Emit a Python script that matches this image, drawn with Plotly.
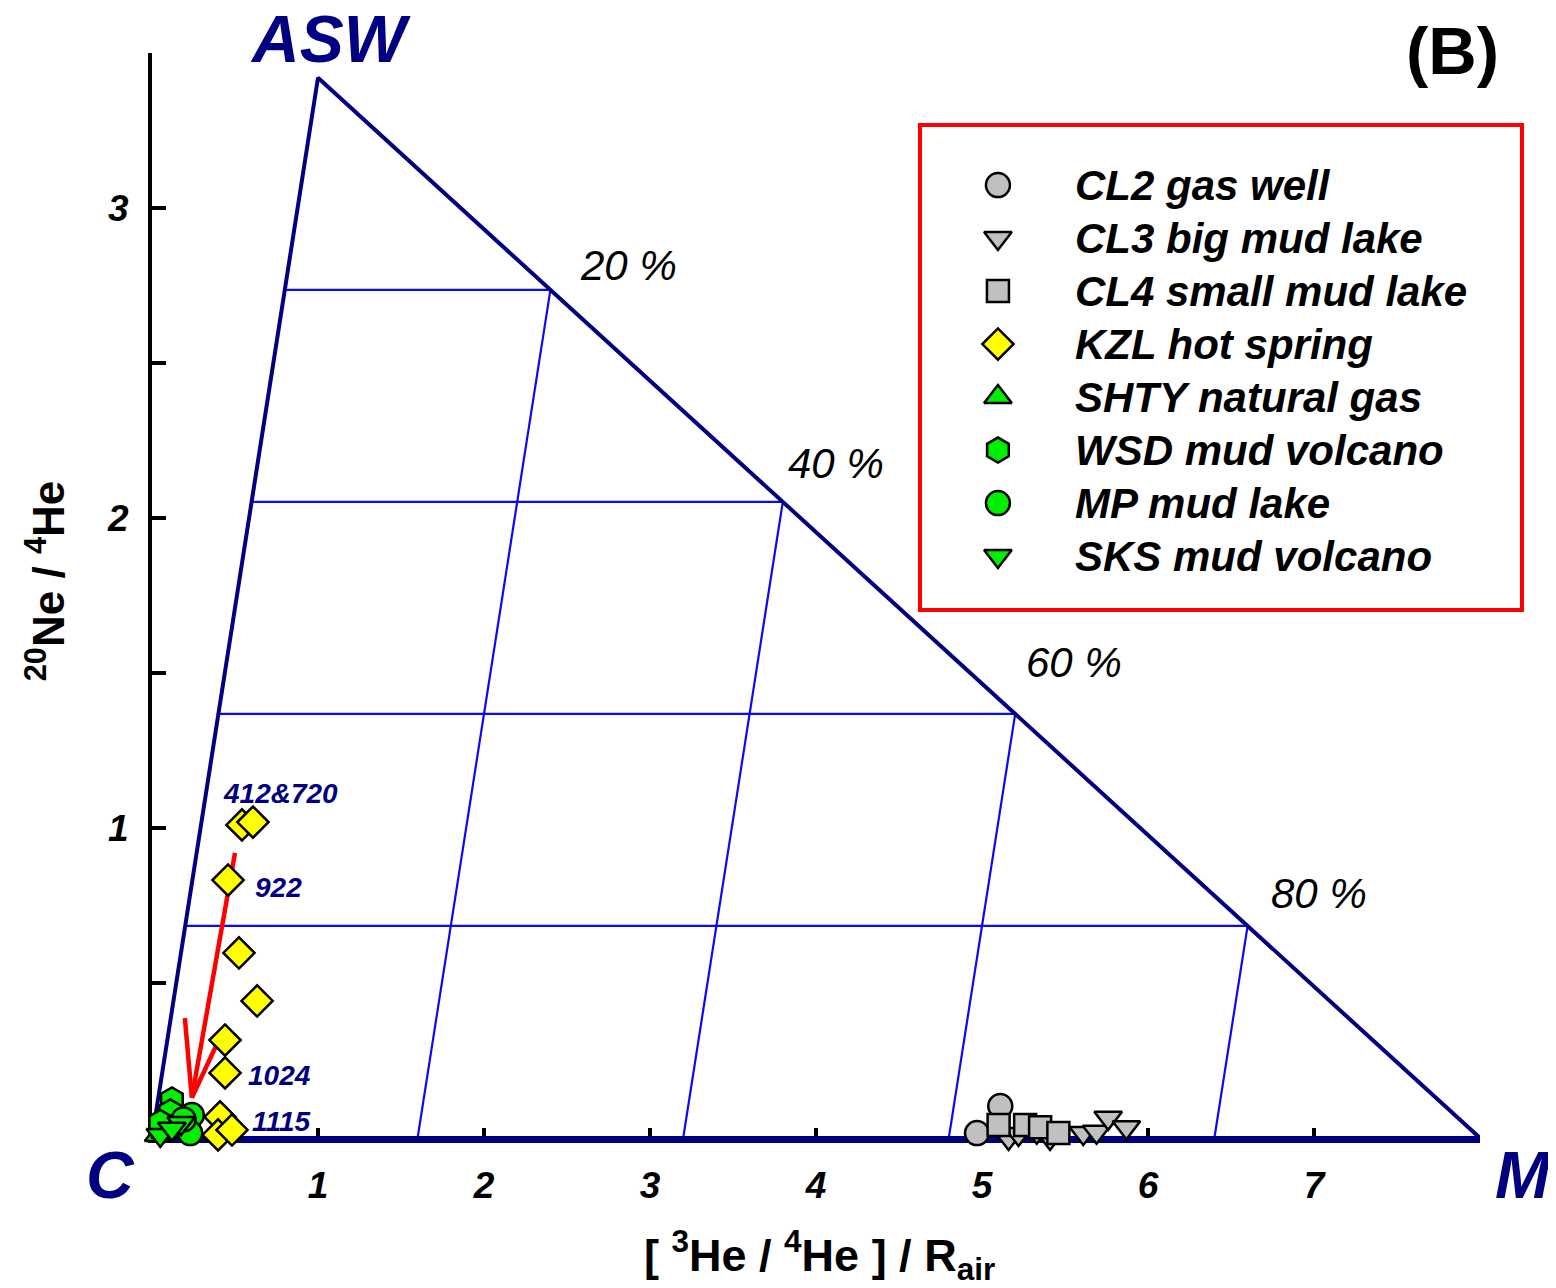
import math
import plotly.graph_objects as go

# ---------------- data ----------------
END_NAMES = ["C", "ASW", "M"]
END_X = [0.0, 1.0, 8.0]
END_Y = [0.0, 3.42, 0.0]
GRID_FRACS = [0.2, 0.4, 0.6, 0.8]
PCT_LABELS = ["20 %", "40 %", "60 %", "80 %"]

SERIES_NAMES = ["CL2 gas well", "CL3 big mud lake", "CL4 small mud lake", "KZL hot spring",
                "SHTY natural gas", "WSD mud volcano", "MP mud lake", "SKS mud volcano"]

CL2_X = [5.11, 4.97]
CL2_Y = [0.103, 0.016]
CL3_X = [5.16, 5.22, 5.33, 5.41, 5.61, 5.69, 5.76, 5.87]
CL3_Y = [0.0, 0.013, 0.02, 0.0, 0.016, 0.02, 0.065, 0.035]
CL4_X = [5.10, 5.26, 5.35, 5.46]
CL4_Y = [0.042, 0.042, 0.035, 0.016]
KZL_X = [0.542, 0.608, 0.458, 0.524, 0.633, 0.440, 0.440, 0.410, 0.398, 0.482]
KZL_Y = [1.010, 1.019, 0.832, 0.597, 0.442, 0.316, 0.210, 0.068, 0.010, 0.026]
SHTY_X = [0.04, 0.08]
SHTY_Y = [0.01, 0.02]
WSD_X = [0.12, 0.11, 0.07, 0.05]
WSD_Y = [0.123, 0.084, 0.026, 0.05]
MP_X = [0.24, 0.23, 0.19]
MP_Y = [0.074, 0.016, 0.06]
SKS_X = [0.175, 0.05, 0.12]
SKS_Y = [0.048, 0.01, 0.03]

KZL_LABEL_IDX = [1, 2, 6, 9]
KZL_LABELS = ["412&720", "922", "1024", "1115"]

ARROW_FROM = (0.50, 0.92)
ARROW_TO = (0.24, 0.13)

X_TICKS = [1, 2, 3, 4, 5, 6, 7]
Y_TICKS = [0.5, 1, 1.5, 2, 2.5, 3, 3.5]
Y_TICKTEXT = ["", "1", "", "2", "", "3", ""]

# ---------------- style / layout ----------------
W, H = 1548, 1280
ML, MR, MT, MB = 144, 76, 45, 150
XR = [0, 8]
YR = [0, 3.5]
PXX = (W - ML - MR) / (XR[1] - XR[0])
PXY = (H - MT - MB) / (YR[1] - YR[0])

FONT = "Arial, Liberation Sans, sans-serif"
NAVY = "#000080"
GRID = "#0A0AF0"
GRAY = "#C0C0C0"
YEL = "#FFFF00"
GRN = "#00EE00"

STYLES = [
    dict(symbol="circle", color=GRAY, size=24),
    dict(symbol="triangle-down", color=GRAY, size=24),
    dict(symbol="square", color=GRAY, size=22),
    dict(symbol="diamond", color=YEL, size=24),
    dict(symbol="triangle-up", color=GRN, size=24),
    dict(symbol="hexagon", color=GRN, size=25),
    dict(symbol="circle", color=GRN, size=24),
    dict(symbol="triangle-down", color=GRN, size=24),
]
SERIES_XY = [(CL2_X, CL2_Y), (CL3_X, CL3_Y), (CL4_X, CL4_Y), (KZL_X, KZL_Y),
             (SHTY_X, SHTY_Y), (WSD_X, WSD_Y), (MP_X, MP_Y), (SKS_X, SKS_Y)]

fig = go.Figure()

C = (END_X[0], END_Y[0])
A = (END_X[1], END_Y[1])
M = (END_X[2], END_Y[2])

def mix(p, q, f):
    return (p[0] * f + q[0] * (1 - f), p[1] * f + q[1] * (1 - f))

# grid lines
gx, gy = [], []
for f in GRID_FRACS:
    p1 = mix(A, C, f); p2 = mix(A, M, f)
    gx += [p1[0], p2[0], None]; gy += [p1[1], p2[1], None]
    q1 = mix(M, C, f); q2 = mix(M, A, f)
    gx += [q1[0], q2[0], None]; gy += [q1[1], q2[1], None]
fig.add_trace(go.Scatter(x=gx, y=gy, mode="lines", line=dict(color=GRID, width=2.2),
                         hoverinfo="skip", showlegend=False))

# triangle outline
fig.add_trace(go.Scatter(x=[C[0], A[0], M[0], C[0]], y=[C[1], A[1], M[1], C[1]],
                         mode="lines", line=dict(color=NAVY, width=4),
                         hoverinfo="skip", showlegend=False))

# arrow
tx, ty = ARROW_FROM
hx, hy = ARROW_TO
dxp = (tx - hx) * PXX
dyp = (ty - hy) * PXY
ang = math.atan2(dyp, dxp)
blen = 80
spread = math.radians(15)
ax_, ay_ = [tx, hx, None], [ty, hy, None]
for s in (-spread, spread):
    bx = hx + blen * math.cos(ang + s) / PXX
    by = hy + blen * math.sin(ang + s) / PXY
    ax_ += [bx, hx, None]; ay_ += [by, hy, None]
fig.add_trace(go.Scatter(x=ax_, y=ay_, mode="lines", line=dict(color="#FF0000", width=4.5),
                         hoverinfo="skip", showlegend=False))

# data
for name, (xs, ys), st in zip(SERIES_NAMES, SERIES_XY, STYLES):
    fig.add_trace(go.Scatter(
        x=xs, y=ys, mode="markers", name=name, showlegend=False, cliponaxis=False,
        marker=dict(symbol=st["symbol"], size=st["size"], color=st["color"],
                    line=dict(color="black", width=2.5))))

# manual legend on overlay axes (plot-area fractions 0..1)
LEG_X = 0.637
LEG_TXT_X = 0.6935
LEG_Y0 = 0.8783
LEG_DY = 0.04885
for i, (name, st) in enumerate(zip(SERIES_NAMES, STYLES)):
    yy = LEG_Y0 - i * LEG_DY
    fig.add_trace(go.Scatter(
        x=[LEG_X], y=[yy], xaxis="x2", yaxis="y2", mode="markers", showlegend=False,
        hoverinfo="skip",
        marker=dict(symbol=st["symbol"], size=st["size"], color=st["color"],
                    line=dict(color="black", width=2.5))))
    fig.add_annotation(xref="paper", yref="paper", x=LEG_TXT_X, y=yy, text=name,
                       showarrow=False, xanchor="left", yanchor="middle",
                       font=dict(family=FONT, size=42, color="black", weight="bold", style="italic"))

fig.add_shape(type="rect", xref="paper", yref="paper", x0=0.5783, x1=1.0316, y0=0.4866, y1=0.9336,
              line=dict(color="#FF0000", width=4))

# percent labels
PCT_SHIFT = [(28, -1), (3, 13), (9, 26), (21, 7)]
for f, lab, (xs_, ys_) in zip(GRID_FRACS, PCT_LABELS, PCT_SHIFT):
    p = mix(M, A, f)
    fig.add_annotation(x=p[0], y=p[1], text=lab, showarrow=False, xanchor="left", yanchor="bottom",
                       xshift=xs_, yshift=ys_,
                       font=dict(family=FONT, size=42, color="black", style="italic"))

# sample labels
LAB_SHIFT = [(28, 29, "center"), (25, -7, "left"), (21, -3, "left"), (18, 8, "left")]
for idx, lab, (xs_, ys_, anc) in zip(KZL_LABEL_IDX, KZL_LABELS, LAB_SHIFT):
    fig.add_annotation(x=KZL_X[idx], y=KZL_Y[idx], text=lab, showarrow=False,
                       xanchor=anc, yanchor="middle", xshift=xs_, yshift=ys_,
                       font=dict(family=FONT, size=28, color=NAVY, weight="bold", style="italic"))

# end-member labels
END_SHIFT = [(-42, -37), (12, 39), (43, -37)]
for n, x, y, (xs_, ys_) in zip(END_NAMES, END_X, END_Y, END_SHIFT):
    fig.add_annotation(x=x, y=y, text=n, showarrow=False, xanchor="center", yanchor="middle",
                       xshift=xs_, yshift=ys_,
                       font=dict(family=FONT, size=66, color=NAVY, weight="bold", style="italic"))

# panel label
fig.add_annotation(xref="paper", yref="paper", x=0.979, y=1.0025, text="(B)", showarrow=False,
                   xanchor="center", yanchor="middle",
                   font=dict(family=FONT, size=67, color="black", weight="bold"))

# axis titles
fig.add_annotation(xref="paper", yref="paper", x=-0.0806, y=0.514,
                   text="<sup>20</sup>Ne / <sup>4</sup>He", textangle=-90, showarrow=False,
                   xanchor="center", yanchor="middle",
                   font=dict(family=FONT, size=44, color="black", weight="bold"))
fig.add_annotation(xref="paper", yref="paper", x=0.503, y=-0.108,
                   text="[ <sup>3</sup>He / <sup>4</sup>He ] / R<sub>air</sub>", showarrow=False,
                   xanchor="center", yanchor="middle",
                   font=dict(family=FONT, size=45, color="black", weight="bold"))

fig.update_layout(
    width=W, height=H, margin=dict(l=ML, r=MR, t=MT, b=MB, autoexpand=False),
    paper_bgcolor="white", plot_bgcolor="white", showlegend=False,
    xaxis=dict(range=XR, showgrid=False, zeroline=False, showline=True, linecolor=NAVY, linewidth=5,
               ticks="inside", ticklen=10, tickwidth=4, tickcolor="black",
               tickvals=X_TICKS, ticktext=[str(v) for v in X_TICKS], ticklabelstandoff=11,
               tickfont=dict(family=FONT, size=37, color="black", weight="bold", style="italic"),
               layer="below traces", automargin=False, fixedrange=True),
    yaxis=dict(range=YR, showgrid=False, zeroline=False, showline=True, linecolor="black", linewidth=4,
               ticks="inside", ticklen=14, tickwidth=4, tickcolor="black",
               tickvals=Y_TICKS, ticktext=Y_TICKTEXT, ticklabelstandoff=12,
               tickfont=dict(family=FONT, size=37, color="black", weight="bold", style="italic"),
               layer="below traces", automargin=False, fixedrange=True),
    xaxis2=dict(overlaying="x", range=[0, 1], visible=False, fixedrange=True),
    yaxis2=dict(overlaying="y", range=[0, 1], visible=False, fixedrange=True),
)

fig.write_html("out.html")
